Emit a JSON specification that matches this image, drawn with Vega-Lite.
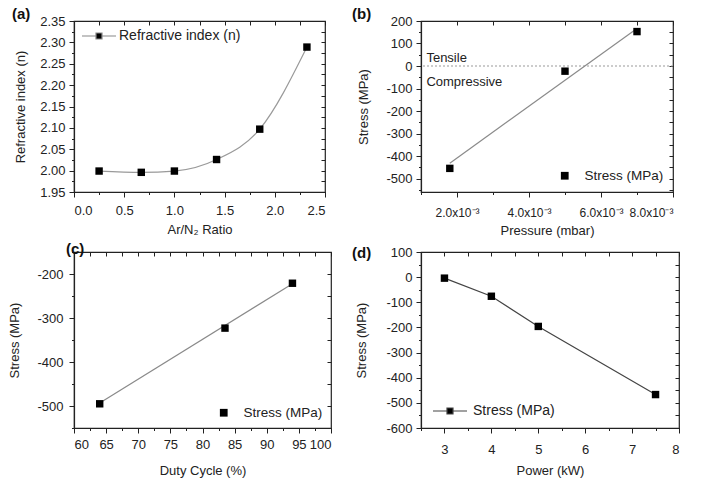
{
  "$schema": "https://vega.github.io/schema/vega-lite/v6.json",
  "padding": {"left": 8, "top": 6, "right": 5, "bottom": 5},
  "bounds": "flush",
  "columns": 2,
  "spacing": {"row": 60, "column": 90},
  "datasets": {
    "a": [
      {"ratio": 0.25, "n": 1.999, "series": "Refractive index (n)"},
      {"ratio": 0.67, "n": 1.996, "series": "Refractive index (n)"},
      {"ratio": 1.0, "n": 1.999, "series": "Refractive index (n)"},
      {"ratio": 1.42, "n": 2.026, "series": "Refractive index (n)"},
      {"ratio": 1.85, "n": 2.097, "series": "Refractive index (n)"},
      {"ratio": 2.32, "n": 2.289, "series": "Refractive index (n)"}
    ],
    "b": [
      {"p": 0.0018, "s": -455, "series": "Stress (MPa)"},
      {"p": 0.005, "s": -23, "series": "Stress (MPa)"},
      {"p": 0.007, "s": 153, "series": "Stress (MPa)"}
    ],
    "bfit": [
      {"p": 0.0018, "s": -432},
      {"p": 0.007, "s": 167}
    ],
    "bref": [{"s": 0}],
    "blab": [
      {"p": 0.00115, "s": 0, "label": "Tensile", "pos": "above"},
      {"p": 0.00115, "s": 0, "label": "Compressive", "pos": "below"}
    ],
    "c": [
      {"d": 64, "s": -495, "series": "Stress (MPa)"},
      {"d": 83.5, "s": -323, "series": "Stress (MPa)"},
      {"d": 94, "s": -221, "series": "Stress (MPa)"}
    ],
    "cfit": [
      {"d": 64, "s": -493},
      {"d": 94, "s": -222}
    ],
    "d": [
      {"w": 3, "s": -4, "series": "Stress (MPa)"},
      {"w": 4, "s": -76, "series": "Stress (MPa)"},
      {"w": 5, "s": -196, "series": "Stress (MPa)"},
      {"w": 7.5, "s": -467, "series": "Stress (MPa)"}
    ]
  },
  "concat": [
    {
      "width": 251,
      "height": 171,
      "title": {"text": "(a)", "anchor": "start", "frame": "group", "dx": -62, "offset": -7},
      "layer": [
        {
          "data": {"name": "a"},
          "mark": {"type": "line", "color": "#9a9a9a", "strokeWidth": 1.2, "interpolate": "monotone"},
          "encoding": {
            "x": {"field": "ratio", "type": "quantitative", "scale": {"domain": [0, 2.5], "nice": false, "zero": false},
              "axis": {"orient": "top", "values": [0,0.25,0.5,0.75,1,1.25,1.5,1.75,2,2.25,2.5], "labels": false, "title": null, "domain": false, "offset": -4, "tickSize": 4}},
            "y": {"field": "n", "type": "quantitative", "scale": {"domain": [1.95, 2.35], "nice": false, "zero": false},
              "axis": {"orient": "right", "values": [1.95,1.975,2,2.025,2.05,2.075,2.1,2.125,2.15,2.175,2.2,2.225,2.25,2.275,2.3,2.325,2.35], "labels": false, "title": null, "domain": false, "offset": -4, "tickSize": 4}}
          }
        },
        {
          "data": {"name": "a"},
          "mark": {"type": "point", "shape": "square", "filled": true, "size": 55, "opacity": 1},
          "encoding": {
            "x": {"field": "ratio", "type": "quantitative",
              "axis": {"orient": "bottom", "title": "Ar/N₂ Ratio", "labelPadding": 7, "titlePadding": 6, "values": [0,0.25,0.5,0.75,1,1.25,1.5,1.75,2,2.25,2.5],
                "labelExpr": "round(datum.value*4)%2==0 ? format(datum.value,'.1f') : ''",
                "tickSize": {"condition": {"test": "round(datum.value*4)%2!=0", "value": 2.5}, "value": 5}}},
            "y": {"field": "n", "type": "quantitative",
              "axis": {"orient": "left", "title": "Refractive index (n)", "labelPadding": 4, "titlePadding": 12, "values": [1.95,1.975,2,2.025,2.05,2.075,2.1,2.125,2.15,2.175,2.2,2.225,2.25,2.275,2.3,2.325,2.35],
                "labelExpr": "round(datum.value*40)%2==0 ? format(datum.value,'.2f') : ''",
                "tickSize": {"condition": {"test": "round(datum.value*40)%2!=0", "value": 2.5}, "value": 5}}},
            "color": {"field": "series", "type": "nominal", "scale": {"range": ["#000000"]},
              "legend": {"title": null, "orient": "top-left", "offset": 8, "padding": 0,
                "symbolType": "M-3.4,0H-0.6M0.6,0H3.4M-0.6,-0.6H0.6V0.6H-0.6Z",
                "symbolSize": 100, "symbolOffset": 10, "labelOffset": 13, "symbolStrokeColor": "#888", "symbolStrokeWidth": 1.2, "symbolFillColor": "#000"}}
          }
        }
      ],
      "resolve": {"axis": {"x": "independent", "y": "independent"}}
    },
    {
      "width": 252,
      "height": 171,
      "title": {"text": "(b)", "anchor": "start", "frame": "group", "dx": -69, "offset": -7},
      "layer": [
        {
          "data": {"name": "bref"},
          "mark": {"type": "rule", "color": "#999", "strokeDash": [2, 2], "strokeWidth": 1.2},
          "encoding": {
            "y": {"field": "s", "type": "quantitative", "scale": {"domain": [-560, 200], "nice": false, "zero": false},
              "axis": {"orient": "right", "values": [-550,-500,-450,-400,-350,-300,-250,-200,-150,-100,-50,0,50,100,150,200], "labels": false, "title": null, "domain": false, "offset": -4, "tickSize": 4}}
          }
        },
        {
          "data": {"name": "bfit"},
          "mark": {"type": "line", "color": "#8a8a8a", "strokeWidth": 1.2},
          "encoding": {
            "x": {"field": "p", "type": "quantitative", "scale": {"domain": [0.001, 0.008], "nice": false, "zero": false},
              "axis": {"orient": "top", "values": [0.001,0.002,0.003,0.004,0.005,0.006,0.007,0.008], "labels": false, "title": null, "domain": false, "offset": -4, "tickSize": 4}},
            "y": {"field": "s", "type": "quantitative", "axis": null}
          }
        },
        {
          "data": {"name": "blab"},
          "transform": [{"filter": "datum.pos=='above'"}],
          "mark": {"type": "text", "align": "left", "baseline": "bottom", "dy": -1, "fontSize": 13, "color": "#222"},
          "encoding": {
            "x": {"field": "p", "type": "quantitative", "axis": null},
            "y": {"field": "s", "type": "quantitative", "axis": null},
            "text": {"field": "label"}
          }
        },
        {
          "data": {"name": "blab"},
          "transform": [{"filter": "datum.pos=='below'"}],
          "mark": {"type": "text", "align": "left", "baseline": "top", "dy": 10, "fontSize": 13, "color": "#222"},
          "encoding": {
            "x": {"field": "p", "type": "quantitative", "axis": null},
            "y": {"field": "s", "type": "quantitative", "axis": null},
            "text": {"field": "label"}
          }
        },
        {
          "data": {"name": "b"},
          "mark": {"type": "point", "shape": "square", "filled": true, "size": 55, "opacity": 1},
          "encoding": {
            "x": {"field": "p", "type": "quantitative",
              "axis": {"orient": "bottom", "title": "Pressure (mbar)", "values": [0.001,0.002,0.003,0.004,0.005,0.006,0.007,0.008],
                "labelExpr": "round(datum.value*1000)%2==0 ? format(datum.value*1000,'.1f')+'x10⁻³' : ''",
                "labelFontSize": 12, "labelPadding": 10, "titlePadding": 6,
                "tickSize": {"condition": {"test": "round(datum.value*1000)%2!=0", "value": 2.5}, "value": 5}}},
            "y": {"field": "s", "type": "quantitative",
              "axis": {"orient": "left", "title": "Stress (MPa)", "labelPadding": 4, "titlePadding": 15, "values": [-550,-500,-450,-400,-350,-300,-250,-200,-150,-100,-50,0,50,100,150,200],
                "labelExpr": "round(datum.value)%100==0 ? ''+datum.value : ''",
                "tickSize": {"condition": {"test": "round(datum.value)%100!=0", "value": 2.5}, "value": 5}}},
            "color": {"field": "series", "type": "nominal", "scale": {"range": ["#000000"]},
              "legend": {"title": null, "orient": "bottom-right", "offset": 9, "padding": 0, "symbolType": "square", "symbolSize": 60, "labelOffset": 13, "labelFontSize": 13.5}}
          }
        }
      ],
      "resolve": {"axis": {"x": "independent", "y": "independent"}}
    },
    {
      "width": 257,
      "height": 176,
      "title": {"text": "(c)", "anchor": "start", "frame": "group", "dx": -8, "offset": -5},
      "layer": [
        {
          "data": {"name": "cfit"},
          "mark": {"type": "line", "color": "#8a8a8a", "strokeWidth": 1.2},
          "encoding": {
            "x": {"field": "d", "type": "quantitative", "scale": {"domain": [60, 100], "nice": false, "zero": false},
              "axis": {"orient": "top", "values": [60,62.5,65,67.5,70,72.5,75,77.5,80,82.5,85,87.5,90,92.5,95,97.5,100], "labels": false, "title": null, "domain": false, "offset": -4, "tickSize": 4}},
            "y": {"field": "s", "type": "quantitative", "scale": {"domain": [-550, -150], "nice": false, "zero": false},
              "axis": {"orient": "right", "values": [-550,-500,-450,-400,-350,-300,-250,-200,-150], "labels": false, "title": null, "domain": false, "offset": -4, "tickSize": 4}}
          }
        },
        {
          "data": {"name": "c"},
          "mark": {"type": "point", "shape": "square", "filled": true, "size": 55, "opacity": 1},
          "encoding": {
            "x": {"field": "d", "type": "quantitative",
              "axis": {"orient": "bottom", "title": "Duty Cycle (%)", "labelPadding": 5, "titlePadding": 13, "values": [60,62.5,65,67.5,70,72.5,75,77.5,80,82.5,85,87.5,90,92.5,95,97.5,100],
                "labelExpr": "round(datum.value*2)%10==0 ? ''+datum.value : ''",
                "tickSize": {"condition": {"test": "round(datum.value*2)%10!=0", "value": 2.5}, "value": 5}}},
            "y": {"field": "s", "type": "quantitative",
              "axis": {"orient": "left", "title": "Stress (MPa)", "labelPadding": 6, "titlePadding": 15, "values": [-550,-500,-450,-400,-350,-300,-250,-200,-150],
                "labelExpr": "round(datum.value)%100==0 ? ''+datum.value : ''",
                "tickSize": {"condition": {"test": "round(datum.value)%100!=0", "value": 2.5}, "value": 5}}},
            "color": {"field": "series", "type": "nominal", "scale": {"range": ["#000000"]},
              "legend": {"title": null, "orient": "bottom-right", "offset": 8, "padding": 0, "symbolType": "square", "symbolSize": 60, "labelOffset": 13, "labelFontSize": 13.5}}
          }
        }
      ],
      "resolve": {"axis": {"x": "independent", "y": "independent"}}
    },
    {
      "width": 258,
      "height": 176,
      "title": {"text": "(d)", "anchor": "start", "frame": "group", "dx": -69, "offset": -15},
      "layer": [
        {
          "data": {"name": "d"},
          "mark": {"type": "line", "color": "#444", "strokeWidth": 1.2},
          "encoding": {
            "x": {"field": "w", "type": "quantitative", "scale": {"domain": [2.5, 8], "nice": false, "zero": false},
              "axis": {"orient": "top", "values": [2.5,3,3.5,4,4.5,5,5.5,6,6.5,7,7.5,8], "labels": false, "title": null, "domain": false, "offset": -4, "tickSize": 4}},
            "y": {"field": "s", "type": "quantitative", "scale": {"domain": [-600, 100], "nice": false, "zero": false},
              "axis": {"orient": "right", "values": [-600,-550,-500,-450,-400,-350,-300,-250,-200,-150,-100,-50,0,50,100], "labels": false, "title": null, "domain": false, "offset": -4, "tickSize": 4}}
          }
        },
        {
          "data": {"name": "d"},
          "mark": {"type": "point", "shape": "square", "filled": true, "size": 55, "opacity": 1},
          "encoding": {
            "x": {"field": "w", "type": "quantitative",
              "axis": {"orient": "bottom", "title": "Power (kW)", "labelPadding": 10, "titlePadding": 8, "values": [2.5,3,3.5,4,4.5,5,5.5,6,6.5,7,7.5,8],
                "labelExpr": "round(datum.value*2)%2==0 ? ''+datum.value : ''",
                "tickSize": {"condition": {"test": "round(datum.value*2)%2!=0", "value": 2.5}, "value": 5}}},
            "y": {"field": "s", "type": "quantitative",
              "axis": {"orient": "left", "title": "Stress (MPa)", "labelPadding": 4, "titlePadding": 17, "values": [-600,-550,-500,-450,-400,-350,-300,-250,-200,-150,-100,-50,0,50,100],
                "labelExpr": "round(datum.value)%100==0 ? ''+datum.value : ''",
                "tickSize": {"condition": {"test": "round(datum.value)%100!=0", "value": 2.5}, "value": 5}}},
            "color": {"field": "series", "type": "nominal", "scale": {"range": ["#000000"]},
              "legend": {"title": null, "orient": "bottom-left", "offset": 10, "padding": 0,
                "symbolType": "M-3.4,0H-0.6M0.6,0H3.4M-0.6,-0.6H0.6V0.6H-0.6Z",
                "symbolSize": 100, "symbolOffset": 12, "labelOffset": 16, "symbolStrokeColor": "#444", "symbolStrokeWidth": 1.2, "symbolFillColor": "#000"}}
          }
        }
      ],
      "resolve": {"axis": {"x": "independent", "y": "independent"}}
    }
  ],
  "resolve": {"scale": {"color": "independent"}, "legend": {"color": "independent"}},
  "config": {
    "font": "Liberation Sans",
    "background": "white",
    "view": {"stroke": "#222", "strokeWidth": 1.2},
    "title": {"fontSize": 15, "fontWeight": "bold", "color": "#111", "font": "Liberation Sans"},
    "axis": {
      "grid": false,
      "domainColor": "#222",
      "domainWidth": 1.2,
      "tickColor": "#222",
      "tickWidth": 1,
      "labelFont": "Liberation Sans",
      "labelFontSize": 13,
      "labelColor": "#222",
      "labelPadding": 3,
      "titleFont": "Liberation Sans",
      "titleFontSize": 13,
      "titleFontWeight": "normal",
      "titleColor": "#222",
      "titlePadding": 6
    },
    "legend": {
      "labelFont": "Liberation Sans",
      "labelFontSize": 14,
      "labelColor": "#222"
    }
  }
}
